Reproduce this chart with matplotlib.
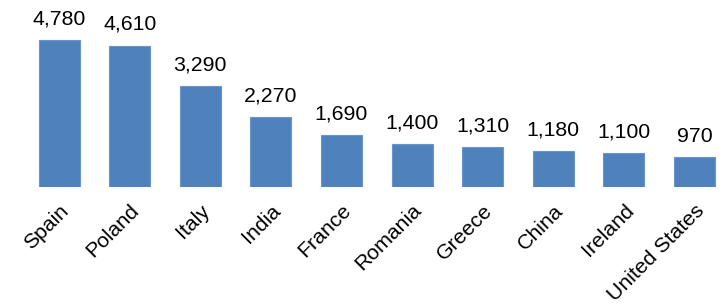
import numpy as np
import matplotlib.pyplot as plt

plt.rcParams['font.family'] = ['Liberation Sans', 'DejaVu Sans']

countries = ['Spain', 'Poland', 'Italy', 'India', 'France', 'Romania',
             'Greece', 'China', 'Ireland', 'United States']
values = [4780, 4610, 3290, 2270, 1690, 1400, 1310, 1180, 1100, 970]

fig = plt.figure(figsize=(7.28, 3.04), dpi=100)
ax = fig.add_axes([0.0326, 0.385, 0.965, 0.555])

x = np.arange(len(countries))
bars = ax.bar(x, values, width=0.58, color='#4F81BD', edgecolor='#6A95CB', linewidth=0.8)

for xi, v in zip(x, values):
    ax.text(xi, v + 380, f'{v:,}', ha='center', va='bottom', fontsize=15.3, color='black')

ax.set_xlim(-0.5, 9.45)
ax.set_ylim(0, 5500)
ax.set_xticks(x)
ax.set_xticklabels(countries, rotation=45, ha='right', rotation_mode='anchor', fontsize=15.3)
ax.tick_params(axis='x', length=0, pad=10)
ax.set_yticks([])
for s in ax.spines.values():
    s.set_visible(False)

plt.savefig('out.png', dpi=100)
